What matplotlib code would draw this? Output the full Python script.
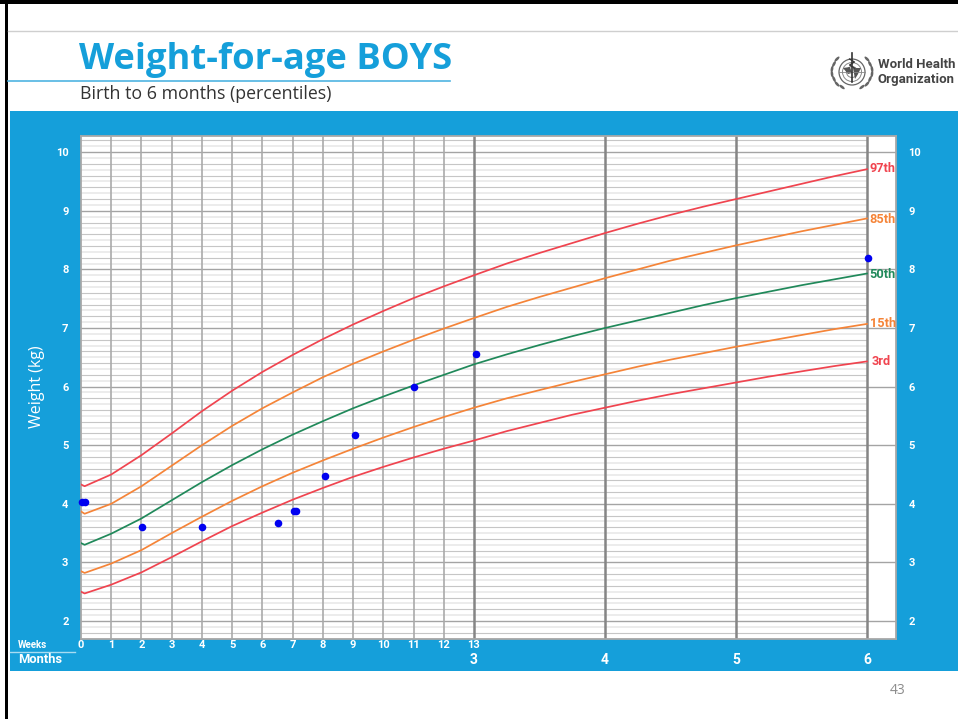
import matplotlib
matplotlib.use('Agg')
import matplotlib.pyplot as plt
from matplotlib.patches import Circle, Ellipse, Polygon, Rectangle

W, H = 958, 719
BLUE = '#159fda'
RED = '#f0444f'
ORANGE = '#f58438'
GREEN = '#20895a'
LABEL = 'Roboto'

# ages in months, the first part comes from the weekly columns (13 weeks = 3 months)
week_ages = [0, 0.12, 1, 2, 3, 4, 5, 6, 7, 8, 9, 10, 11, 12, 13]
month_ages = [3.25, 3.5, 3.75, 4, 4.25, 4.5, 4.75, 5, 5.25, 5.5, 5.75, 6]
ages = [w * 3 / 13 for w in week_ages] + month_ages

p3 = [2.50, 2.47, 2.62, 2.83, 3.09, 3.36, 3.62, 3.85, 4.07, 4.27, 4.46, 4.63, 4.79, 4.94, 5.08,
      5.24, 5.38, 5.52, 5.64, 5.76, 5.87, 5.97, 6.07, 6.17, 6.26, 6.35, 6.43]
p15 = [2.85, 2.82, 2.98, 3.21, 3.50, 3.78, 4.05, 4.30, 4.53, 4.74, 4.94, 5.13, 5.31, 5.48, 5.64,
       5.80, 5.94, 6.08, 6.21, 6.34, 6.46, 6.57, 6.68, 6.78, 6.88, 6.98, 7.07]
p50 = [3.33, 3.30, 3.49, 3.75, 4.06, 4.37, 4.66, 4.93, 5.18, 5.41, 5.63, 5.83, 6.02, 6.20, 6.38,
       6.55, 6.71, 6.86, 7.00, 7.13, 7.26, 7.39, 7.51, 7.62, 7.73, 7.83, 7.93]
p85 = [3.87, 3.83, 4.00, 4.30, 4.65, 5.00, 5.33, 5.63, 5.90, 6.16, 6.39, 6.60, 6.80, 6.99, 7.17,
       7.36, 7.53, 7.69, 7.85, 8.00, 8.15, 8.28, 8.41, 8.53, 8.65, 8.76, 8.87]
p97 = [4.33, 4.30, 4.50, 4.83, 5.20, 5.58, 5.93, 6.25, 6.54, 6.81, 7.06, 7.29, 7.51, 7.71, 7.90,
       8.10, 8.28, 8.45, 8.62, 8.78, 8.93, 9.07, 9.20, 9.33, 9.46, 9.59, 9.71]

# measured child, ages in weeks then the last one at 6 months
point_weeks = [0.02, 0.12, 2.02, 4, 6.5, 7.03, 7.1, 8.08, 9.05, 11, 13.07, 26.03]
point_kg = [4.03, 4.03, 3.6, 3.6, 3.68, 3.87, 3.87, 4.48, 5.17, 6.0, 6.55, 8.2]

week_ticks = list(range(14))
month_ticks = [3, 4, 5, 6]
kg_ticks = [2, 3, 4, 5, 6, 7, 8, 9, 10]

fig = plt.figure(figsize=(W / 100, H / 100), dpi=100)

# page overlay in pixels, y going down
page = fig.add_axes([0, 0, 1, 1])
page.set_xlim(0, W)
page.set_ylim(H, 0)
page.axis('off')

page.add_patch(Rectangle((0, 0), W, 3.5, color='black', lw=0))
page.add_patch(Rectangle((5, 0), 3, H, color='black', lw=0))
page.plot([8, W], [30.5, 30.5], color='#cfcfcf', lw=1)
page.plot([8, 450], [81, 81], color='#4fb4e2', lw=1.2)
page.add_patch(Rectangle((10, 111), W - 10, 560, color=BLUE, lw=0))

page.text(79, 68.5, 'Weight-for-age BOYS', color=BLUE, fontsize=26.2, fontweight='bold',
          family='Open Sans', va='baseline', ha='left')
page.text(80, 99, 'Birth to 6 months (percentiles)', color='#333333', fontsize=12.8,
          family='Open Sans', va='baseline', ha='left')
page.text(878, 65, 'World Health', color='#444444', fontsize=9.5, fontweight='bold',
          family=LABEL, va='center', ha='left')
page.text(878, 79, 'Organization', color='#444444', fontsize=9.5, fontweight='bold',
          family=LABEL, va='center', ha='left')

# emblem: globe, staff and laurels
cx, cy = 852, 72
page.add_patch(Circle((cx, cy), 13, fc='none', ec='#666666', lw=0.9))
page.add_patch(Circle((cx, cy), 9.5, fc='none', ec='#888888', lw=0.7))
page.add_patch(Circle((cx, cy), 5.5, fc='none', ec='#888888', lw=0.7))
page.plot([cx - 13, cx + 13], [cy, cy], color='#888888', lw=0.6)
page.add_patch(Polygon([(cx - 9, cy - 4), (cx - 2, cy - 5), (cx, cy + 1), (cx - 4, cy + 2)], fc='#555555', ec='none'))
page.add_patch(Polygon([(cx + 1, cy - 4), (cx + 9, cy - 4), (cx + 6, cy + 2), (cx + 3, cy + 7)], fc='#555555', ec='none'))
page.plot([cx, cx], [cy - 19, cy + 10], color='#333333', lw=1.2)
page.plot([cx - 2.5, cx + 2.5, cx - 2.5, cx + 2.5], [cy - 13, cy - 10, cy - 7, cy - 4], color='#333333', lw=0.9)
for sx in (-1, 1):
    for dy, dx in zip([-13, -8, -3, 2, 7, 12, 15], [15, 18, 20, 20, 18, 15, 10]):
        page.add_patch(Ellipse((cx + sx * dx, cy + dy), 2.6, 6.5, angle=sx * dy * 3.5,
                               fc='#666666', ec='none'))

page.text(898, 690, '43', color='#8c8c8c', fontsize=10, family='Open Sans', va='center', ha='center')

# chart axes, 131 px a month and 58.6 px a kg
left, right, top, bottom = 81, 896, 136, 639
ax = fig.add_axes([left / W, 1 - bottom / H, (right - left) / W, (bottom - top) / H])
ax.set_xlim(0, (right - left) / 131)
ax.set_ylim(2 - (bottom - 621) / 58.6, 2 + (621 - top) / 58.6)
ax.set_facecolor('white')

for n in range(17, 103):
    if n % 10 == 0:
        continue
    if n % 2 == 0:
        ax.hlines(n / 10, 0, 6, color='#c6c6c6', lw=0.8, zorder=1)
    else:
        ax.hlines(n / 10, 0, 6, color='#ececec', lw=1.4, zorder=1)
for kg in kg_ticks:
    ax.axhline(kg, color='#a4a4a4', lw=1, zorder=1.5)

for w in week_ticks[1:13]:
    ax.axvline(w * 3 / 13, color='#aaaaaa', lw=1.2, zorder=2)
for m in month_ticks:
    ax.axvline(m, color='#858585', lw=1.8, zorder=2)

ax.plot(ages, p97, color=RED, lw=1.25, zorder=3)
ax.plot(ages, p85, color=ORANGE, lw=1.25, zorder=3)
ax.plot(ages, p50, color=GREEN, lw=1.25, zorder=3)
ax.plot(ages, p15, color=ORANGE, lw=1.25, zorder=3)
ax.plot(ages, p3, color=RED, lw=1.25, zorder=3)

ax.scatter([w * 3 / 13 for w in point_weeks], point_kg, s=30, color='#0000f0', lw=0, zorder=4, clip_on=False)

ax.text(6.12, 9.72, '97th', color=RED, fontsize=9.2, fontweight='bold', family=LABEL, ha='center', va='center')
ax.text(6.12, 8.85, '85th', color=ORANGE, fontsize=9.2, fontweight='bold', family=LABEL, ha='center', va='center')
ax.text(6.12, 7.92, '50th', color=GREEN, fontsize=9.2, fontweight='bold', family=LABEL, ha='center', va='center')
ax.text(6.12, 7.07, '15th', color=ORANGE, fontsize=9.2, fontweight='bold', family=LABEL, ha='center', va='center')
ax.text(6.105, 6.43, '3rd', color=RED, fontsize=9.2, fontweight='bold', family=LABEL, ha='center', va='center')

for s in ax.spines.values():
    s.set_color('#a8a8a8')
    s.set_linewidth(1.3)

ax.set_yticks(kg_ticks)
ax.set_yticklabels(kg_ticks, color='white', fontsize=8, fontweight='bold', family=LABEL)
ax.tick_params(axis='y', length=0, pad=9)
ax.set_xticks([w * 3 / 13 for w in week_ticks])
ax.set_xticklabels(week_ticks, color='white', fontsize=8, fontweight='bold', family=LABEL)
ax.tick_params(axis='x', length=0, pad=1)

ax2 = ax.twinx()
ax2.set_ylim(ax.get_ylim())
ax2.set_yticks(kg_ticks)
ax2.set_yticklabels(kg_ticks, color='white', fontsize=8, fontweight='bold', family=LABEL)
ax2.tick_params(axis='y', length=0, pad=9)
ax2.patch.set_visible(False)
for s in ax2.spines.values():
    s.set_visible(False)

page.text(37, 387, 'Weight (kg)', color='white', fontsize=11.5, rotation=90,
          family='Open Sans', ha='center', va='center')
page.text(32, 644.5, 'Weeks', color='white', fontsize=7, fontweight='bold', family=LABEL, ha='center', va='center')
page.plot([10, 75], [652, 652], color='#a8dcf2', lw=1)
page.text(40, 659.5, 'Months', color='white', fontsize=9.3, fontweight='bold', family=LABEL, ha='center', va='center')
for m in month_ticks:
    page.text(left + 131 * m, 659.5, str(m), color='white', fontsize=10, fontweight='bold',
              family=LABEL, ha='center', va='center')

plt.savefig('out.png', dpi=100)
